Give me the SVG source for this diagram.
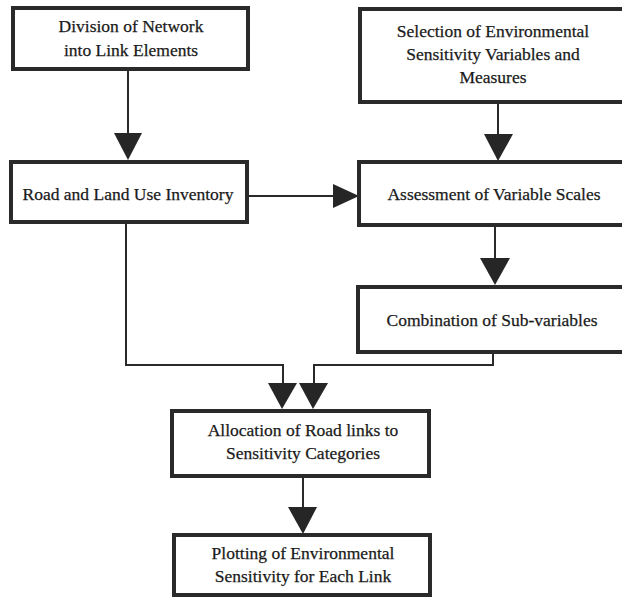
<svg xmlns="http://www.w3.org/2000/svg" width="622" height="597" viewBox="0 0 622 597">
<style>
.box{fill:#fff;stroke:#2a2a2a;stroke-width:4}
.t{font-size:17.5px;fill:#1a1a1a;text-anchor:middle;stroke:#1a1a1a;stroke-width:0.25}
.c{fill:none;stroke:#2a2a2a;stroke-width:2}
.ah{fill:#262626}
</style>
<rect x="0" y="0" width="622" height="597" fill="#fff"/>
<g id="connectors">
<path class="c" d="M128,69 V135"/>
<polygon class="ah" points="114,133 142,133 128,160"/>
<path class="c" d="M247,196 H335"/>
<polygon class="ah" points="333,184 333,208 359,196"/>
<path class="c" d="M498,102 V136"/>
<polygon class="ah" points="484,134 513,134 498,161"/>
<path class="c" d="M495,225 V260"/>
<polygon class="ah" points="480,258 510,258 495,285"/>
<path class="c" d="M126,222 V365 H283 V385"/>
<polygon class="ah" points="268,383 297,383 282,409"/>
<path class="c" d="M493,352 V365 H314 V385"/>
<polygon class="ah" points="299,383 328,383 313,409"/>
<path class="c" d="M303,476 V509"/>
<polygon class="ah" points="288,507 317,507 303,534"/>
</g>
<g font-family="Liberation Serif, Times New Roman, serif">
<g id="division">
<rect class="box" x="13" y="8" width="235" height="61"/>
<text class="t" x="131" y="32">Division of Network</text>
<text class="t" x="131" y="56">into Link Elements</text>
</g>
<g id="inventory">
<rect class="box" x="11" y="162" width="236" height="60"/>
<text class="t" x="128" y="200">Road and Land Use Inventory</text>
</g>
<g id="selection">
<rect class="box" x="360" y="9" width="266" height="93"/>
<text class="t" x="493" y="37">Selection of Environmental</text>
<text class="t" x="493" y="60">Sensitivity Variables and</text>
<text class="t" x="493" y="83">Measures</text>
</g>
<g id="assessment">
<rect class="box" x="359" y="162" width="267" height="63"/>
<text class="t" x="494" y="200">Assessment of Variable Scales</text>
</g>
<g id="combination">
<rect class="box" x="358" y="287" width="268" height="65"/>
<text class="t" x="492" y="326">Combination of Sub-variables</text>
</g>
<g id="allocation">
<rect class="box" x="172" y="411" width="257" height="65"/>
<text class="t" x="303" y="436">Allocation of Road links to</text>
<text class="t" x="303" y="459">Sensitivity Categories</text>
</g>
<g id="plotting">
<rect class="box" x="174" y="535" width="256" height="60"/>
<text class="t" x="303" y="559">Plotting of Environmental</text>
<text class="t" x="303" y="582">Sensitivity for Each Link</text>
</g>
</g>
</svg>
